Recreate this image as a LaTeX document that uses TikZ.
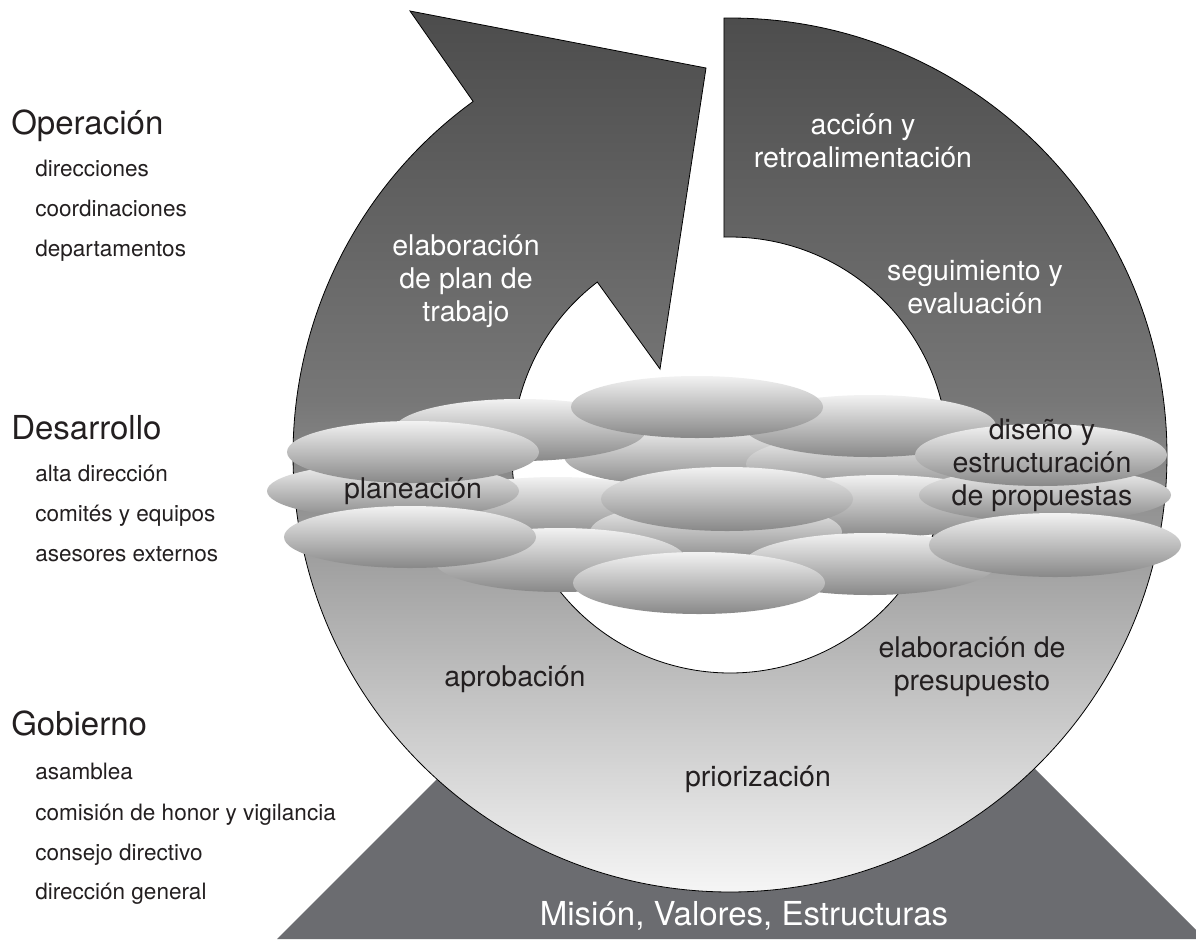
\documentclass[tikz,border=0pt]{standalone}
\usepackage{fontspec}
\setmainfont{TeX Gyre Heros}
\usetikzlibrary{shapes.geometric}
\definecolor{ringtop}{HTML}{4C4C4C}
\definecolor{ringmid}{HTML}{777777}
\definecolor{ringbot}{HTML}{F6F6F6}
\definecolor{ellTop}{HTML}{F2F2F2}
\definecolor{ellBot}{HTML}{888888}
\definecolor{pedestal}{HTML}{6B6C70}
\definecolor{ink}{HTML}{231F20}
\pgfdeclareverticalshading{ringshade}{100bp}{color(0bp)=(ringbot); color(25bp)=(ringbot); color(52.95bp)=(ringmid); color(75bp)=(ringtop); color(100bp)=(ringtop)}
\begin{document}
\begin{tikzpicture}[x=0.75pt,y=0.75pt,
  ell/.style={ellipse, draw=none, minimum width=189pt, minimum height=46.5pt, inner sep=0pt, top color=ellTop, bottom color=ellBot},
  headtxt/.style={anchor=base west, text=ink, inner sep=0pt, font=\fontsize{24.75pt}{30pt}\selectfont},
  itemtxt/.style={anchor=base west, text=ink, inner sep=0pt, font=\fontsize{16.9pt}{20pt}\selectfont},
  lbl/.style={align=center, inner sep=0pt, font=\fontsize{21.4pt}{24.75pt}\selectfont},
  wlbl/.style={lbl, text=white},
  blbl/.style={lbl, text=ink},
  ringstyle/.style={shading=ringshade, draw=black, line width=0.6pt, line join=miter}
]
\clip (0,0) rectangle (1196,-939);
\fill[white] (0,0) rectangle (1196,-939);

% pedestal
\fill[pedestal] (277,-939) -- (496,-720) -- (986,-720) -- (1205,-939) -- cycle;
\node[text=white, inner sep=0pt, font=\fontsize{24.75pt}{30pt}\selectfont] (mision) at (744,-916) {Misión, Valores, Estructuras};

% ring arrow
\coordinate (c) at (730,-455);
\path[ringstyle] (c) ++(90.8:437) arc[start angle=90.8, end angle=-234, radius=437]
  -- (410,-11) -- (706,-68) -- (660,-369)
  -- ([shift={(730,-455)}]127.5:218) arc[start angle=127.5, end angle=451.6, radius=218] -- cycle;

% ellipses (back to front)
\node[ell] (e5) at (690,-456) {};
\node[ell] (e6) at (872,-464) {};
\node[ell] (e9) at (556,-508) {};
\node[ell] (e11) at (882,-506) {};
\node[ell] (e14) at (716,-532) {};
\node[ell] (e1) at (520,-430) {};
\node[ell] (e3) at (870,-426) {};
\node[ell, minimum height=42pt] (e8) at (393,-491) {};
\node[ell, minimum height=40.5pt] (e12) at (1045,-495) {};
\node[ell] (e2) at (697,-407) {};
\node[ell] (e4) at (413,-452) {};
\node[ell] (e7) at (1041,-455) {};
\node[ell, minimum height=48pt] (e10) at (727,-499) {};
\node[ell, minimum height=48pt] (e15) at (560,-560) {};
\node[ell] (e13) at (410,-537) {};
\node[ell] (e17) at (870,-564) {};
\node[ell, minimum height=48pt] (e18) at (1055,-545) {};
\node[ell] (e16) at (699,-583) {};

% ring labels
\node[wlbl] (accion) at (863,-141) {acción y\\retroalimentación};
\node[wlbl] (plan) at (466,-281) {elaboración\\de plan de\\trabajo};
\node[wlbl] (seguim) at (975,-287) {seguimiento y\\evaluación};
\node[blbl] (diseno) at (1042,-465) {diseño y\\estructuración\\de propuestas};
\node[blbl] (planea) at (413,-491) {planeación};
\node[blbl] (aprob) at (515,-679) {aprobación};
\node[blbl] (presup) at (972,-667) {elaboración de\\presupuesto};
\node[blbl] (prior) at (758,-779) {priorización};

% left column
\node[headtxt] (oper) at (11,-134) {Operación};
\node[itemtxt] (o1) at (35,-176) {direcciones};
\node[itemtxt] (o2) at (35,-216) {coordinaciones};
\node[itemtxt] (o3) at (35,-256) {departamentos};
\node[headtxt] (desa) at (11,-439) {Desarrollo};
\node[itemtxt] (d1) at (35,-481) {alta dirección};
\node[itemtxt] (d2) at (35,-521) {comités y equipos};
\node[itemtxt] (d3) at (35,-561) {asesores externos};
\node[headtxt] (gob) at (11,-735) {Gobierno};
\node[itemtxt] (g1) at (35,-779) {asamblea};
\node[itemtxt] (g2) at (35,-820) {comisión de honor y vigilancia};
\node[itemtxt] (g3) at (35,-860) {consejo directivo};
\node[itemtxt] (g4) at (35,-899) {dirección general};
\end{tikzpicture}
\end{document}
